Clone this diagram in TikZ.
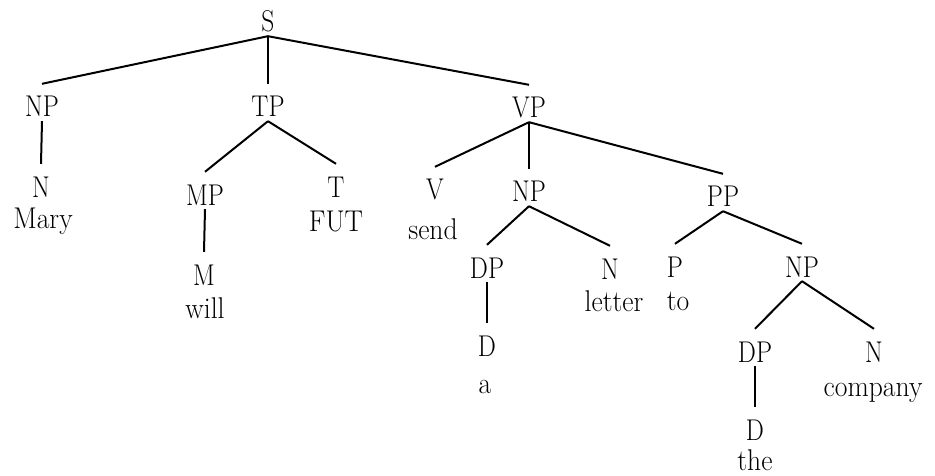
\documentclass[tikz,border=0pt]{standalone}
\usepackage{tikz}
\tikzset{cat/.style={anchor=base, inner sep=0pt, text height=33pt, text depth=4pt, font=\fontsize{30}{32}\selectfont, xscale=.85}}
\tikzset{word/.style={anchor=base, inner sep=0pt, font=\fontsize{30}{32}\selectfont, xscale=.92}}
\tikzset{branch/.style={line width=2pt}}

\begin{document}
\begin{tikzpicture}[x=1pt, y=-1pt]
\useasboundingbox (0,0) rectangle (935,476);

\node[cat] (s) at (268,32) {S};

\node[cat] (np) at (42,117) {NP};
\node[cat] (tp) at (268,117) {TP};
\node[cat] (vp) at (529,118) {VP};

\node[cat] (n) at (41,197) {N};
\node[word] (mary) at (43,229) {Mary};

\node[cat] (mp) at (205,205) {MP};
\node[cat] (t) at (336,197) {T};
\node[word] (fut) at (336,232) {FUT};
\node[cat] (m) at (204,285) {M};
\node[word] (will) at (205,318) {will};

\node[cat] (v) at (435,200) {V};
\node[word] (send) at (433,240) {send};
\node[cat] (npb) at (529,202) {NP};
\node[cat] (pp) at (723,207) {PP};

\node[cat] (dp) at (487,278) {DP};
\node[cat] (nb) at (610,279) {N};
\node[word] (letter) at (614,311) {letter};
\node[cat] (d) at (487,356) {D};
\node[word] (a) at (485,393) {a};

\node[cat] (p) at (675,277) {P};
\node[word] (to) at (678,310) {to};
\node[cat] (npc) at (802,277) {NP};

\node[cat] (dpb) at (755,362) {DP};
\node[cat] (nc) at (874,362) {N};
\node[word] (company) at (873,396) {company};
\node[cat] (db) at (755,440) {D};
\node[word] (the) at (755,470) {the};

\draw[branch] (s.south)--(np.north);
\draw[branch] (s.south)--(tp.north);
\draw[branch] (s.south)--(vp.north);
\draw[branch] (np.south)--(n.north);
\draw[branch] (tp.south)--(mp.north);
\draw[branch] (tp.south)--(t.north);
\draw[branch] (mp.south)--(m.north);
\draw[branch] (vp.south)--(v.north);
\draw[branch] (vp.south)--(npb.north);
\draw[branch] (vp.south)--(pp.north);
\draw[branch] (npb.south)--(dp.north);
\draw[branch] (npb.south)--(nb.north);
\draw[branch] (dp.south)--(d.north);
\draw[branch] (pp.south)--(p.north);
\draw[branch] (pp.south)--(npc.north);
\draw[branch] (npc.south)--(dpb.north);
\draw[branch] (npc.south)--(nc.north);
\draw[branch] (dpb.south)--(db.north);
\end{tikzpicture}
\end{document}
